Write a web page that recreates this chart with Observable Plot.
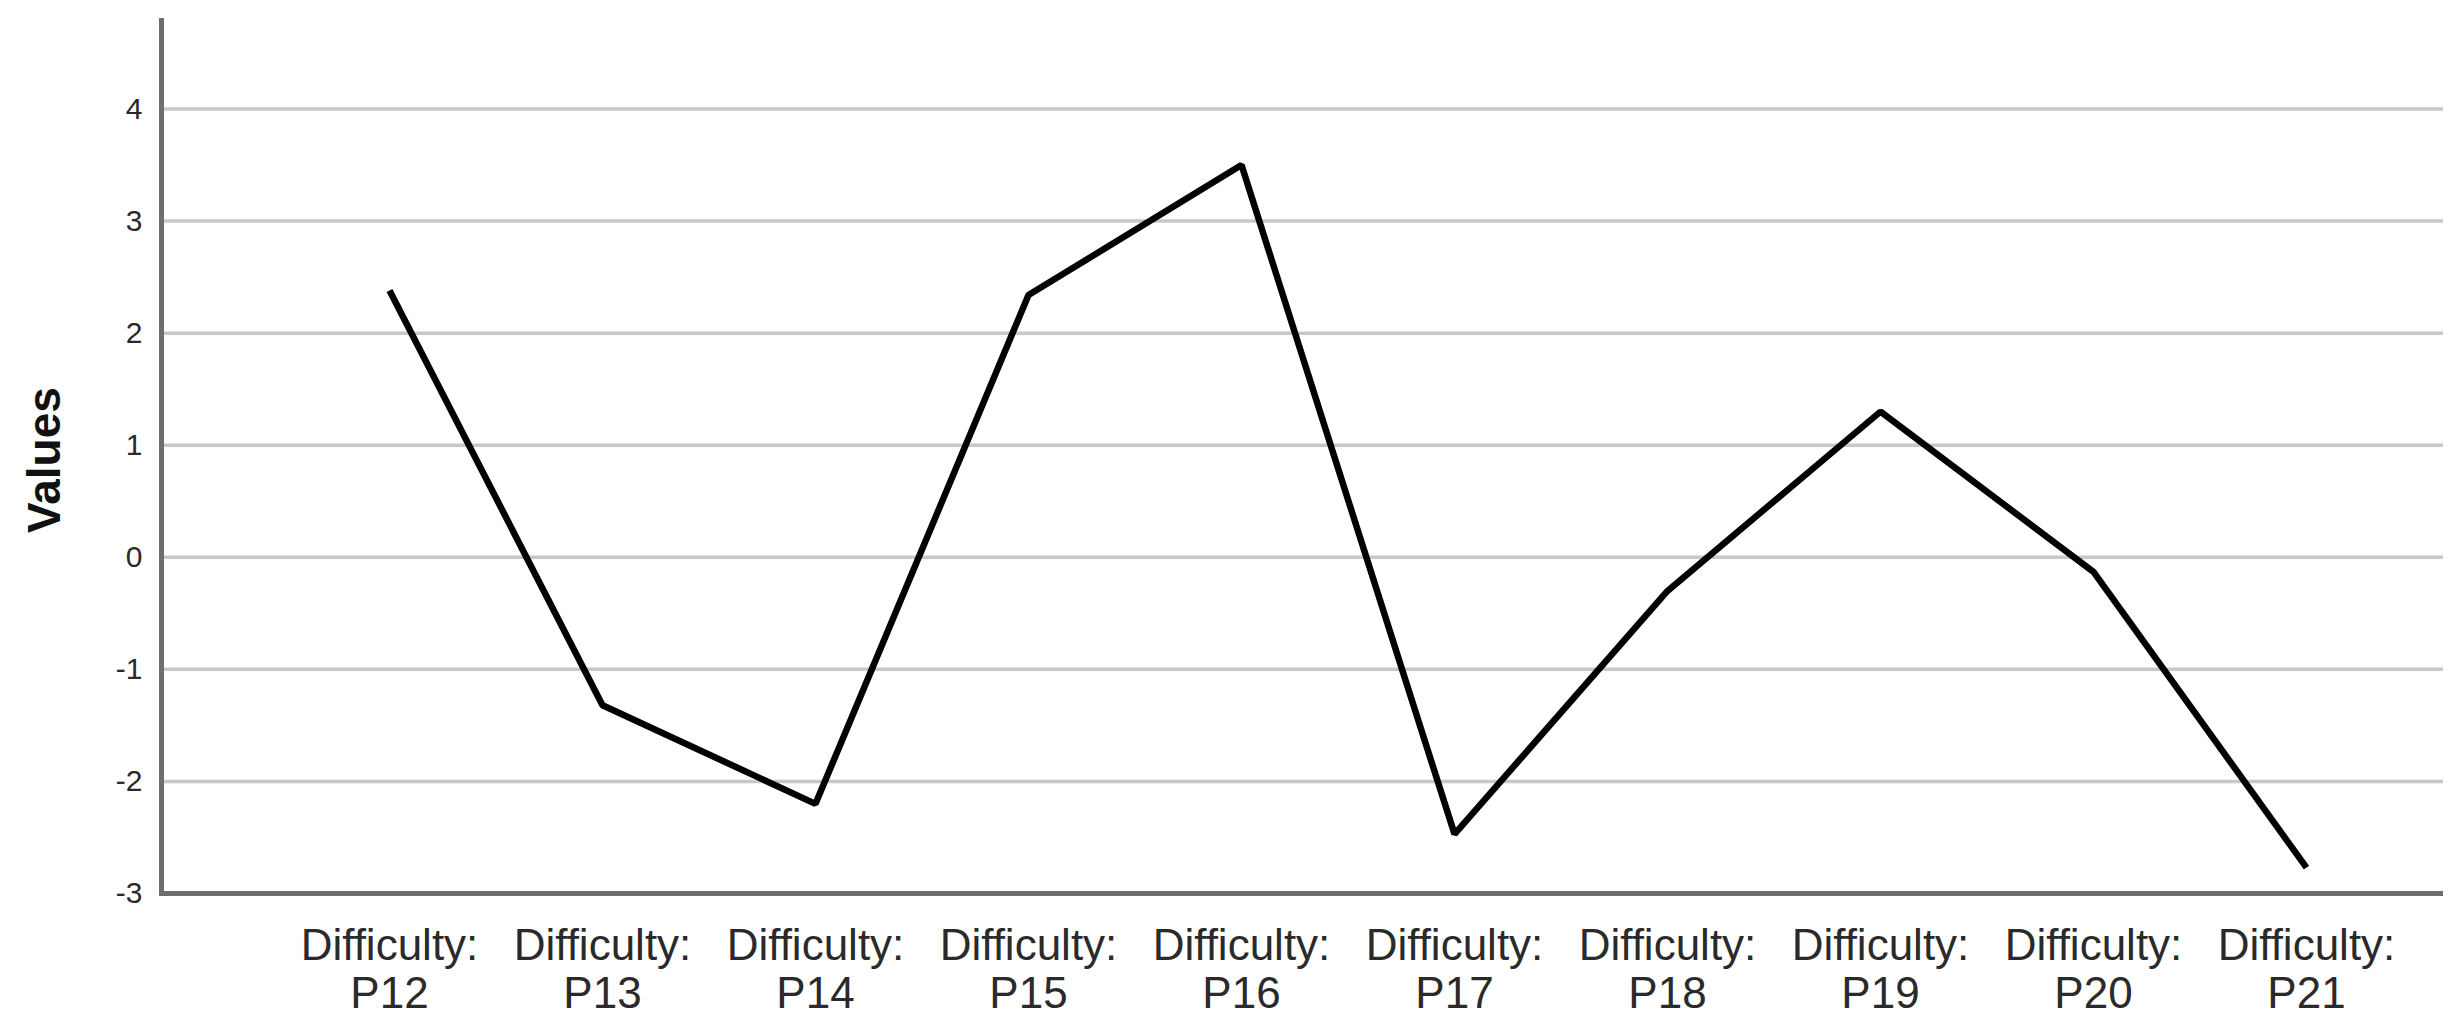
<!DOCTYPE html>
<html>
<head>
<meta charset="utf-8">
<script src="https://cdn.jsdelivr.net/npm/d3@7"></script>
<script src="https://cdn.jsdelivr.net/npm/@observablehq/plot@0.6"></script>
<style>
  html, body { margin: 0; padding: 0; background: #ffffff; }
</style>
</head>
<body>
<div id="chart"></div>
<script>
const categories = [
  "Difficulty: P12", "Difficulty: P13", "Difficulty: P14", "Difficulty: P15", "Difficulty: P16",
  "Difficulty: P17", "Difficulty: P18", "Difficulty: P19", "Difficulty: P20", "Difficulty: P21"
];
const values = [2.38, -1.32, -2.2, 2.34, 3.5, -2.47, -0.3, 1.3, -0.13, -2.77];
const yTicks = [-3, -2, -1, 0, 1, 2, 3, 4];
const yLabel = "Values";

const data = categories.map((c, i) => ({category: c, value: values[i]}));

const chart = Plot.plot({
  width: 2463,
  height: 1033,
  marginLeft: 161,
  marginRight: 20,
  marginTop: 20,
  marginBottom: 140,
  style: {fontFamily: "'Liberation Sans', Arial, sans-serif", background: "#ffffff", color: "#2a2a2a"},
  x: {type: "point", domain: categories, padding: 0, insetLeft: 225, insetRight: 134, label: null},
  y: {domain: [-3, 4.79], label: null},
  marks: [
    Plot.ruleY(yTicks.filter(d => d > -3), {stroke: "#c8c8c8", strokeWidth: 3.5}),
    Plot.axisY({ticks: yTicks, tickSize: 0, tickPadding: 19, fontSize: 30, tickFormat: d => String(d), label: null}),
    Plot.axisX({tickSize: 0, tickPadding: 32, fontSize: 44, lineHeight: 1.1, tickFormat: d => d.replace(": ", ":\n"), label: null}),
    Plot.text([yLabel], {frameAnchor: "left", textAnchor: "middle", dx: -116, dy: 3, rotate: -90, fontSize: 46, fontWeight: "bold", fill: "#111"}),
    Plot.ruleY([-3], {stroke: "#6e6e6e", strokeWidth: 5}),
    Plot.frame({anchor: "left", stroke: "#6e6e6e", strokeWidth: 5}),
    Plot.line(data, {x: "category", y: "value", stroke: "#000", strokeWidth: 6.5, strokeLinejoin: "miter", strokeLinecap: "butt"})
  ]
});
document.getElementById("chart").appendChild(chart);
</script>
</body>
</html>
